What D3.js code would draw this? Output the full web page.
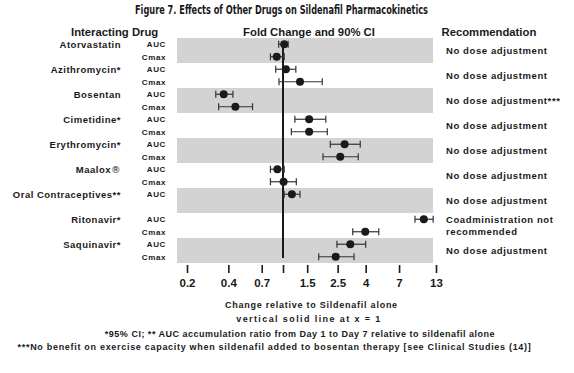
<!DOCTYPE html>
<html>
<head>
<meta charset="utf-8">
<script src="https://cdn.jsdelivr.net/npm/d3@7"></script>
<style>
  body { margin: 0; background: #fff; }
  text { font-family: "Liberation Sans", Arial, sans-serif; font-weight: bold; fill: #1a1a1a; }
  .narrow { font-family: "Liberation Sans Narrow", "DejaVu Sans Condensed", sans-serif; font-stretch: condensed; }
  .mark { font-family: "DejaVu Sans", sans-serif; font-weight: normal; }
</style>
</head>
<body>
<svg id="chart" width="574" height="373"></svg>
<script>
const drugs = ["Atorvastatin", "Azithromycin*", "Bosentan", "Cimetidine*", "Erythromycin*",
  "Maalox\u00AE", "Oral Contraceptives**", "Ritonavir*", "Saquinavir*"];
const measures = [["AUC", "Cmax"], ["AUC", "Cmax"], ["AUC", "Cmax"], ["AUC", "Cmax"], ["AUC", "Cmax"],
  ["AUC", "Cmax"], ["AUC"], ["AUC", "Cmax"], ["AUC", "Cmax"]];
const foldChange = [[1.02, 0.90], [1.05, 1.33], [0.37, 0.45], [1.55, 1.55], [2.81, 2.61],
  [0.91, 1.01], [1.16], [10.6, 3.97], [3.09, 2.42]];
const ciLower = [[0.93, 0.81], [0.885, 0.935], [0.324, 0.34], [1.22, 1.15], [2.21, 1.955],
  [0.81, 0.81], [1.02], [9.14, 3.22], [2.47, 1.82]];
const ciUpper = [[1.09, 1.02], [1.24, 1.93], [0.432, 0.60], [2.05, 2.10], [3.65, 3.53],
  [1.02, 1.25], [1.33], [12.4, 4.98], [4.00, 3.29]];
const recommendations = [["No dose adjustment"], ["No dose adjustment"], ["No dose adjustment***"],
  ["No dose adjustment"], ["No dose adjustment"], ["No dose adjustment"], ["No dose adjustment"],
  ["Coadministration not", "recommended"], ["No dose adjustment"]];
const xTicks = [0.2, 0.4, 0.7, 1, 1.5, 2.5, 4, 7, 13];
const xTickLabels = ["0.2", "0.4", "0.7", "", "1.5", "2.5", "4", "7", "13"];

const svg = d3.select("#chart");

const x = d3.scaleLog().domain([0.2, 13]).range([187, 436]);
const y = d3.scaleBand().domain(d3.range(drugs.length * 2)).range([38, 263]);
const step = y.step();

// one row per drug/measure pair, each drug owns two slots
const rows = [];
drugs.forEach((drug, i) => {
  measures[i].forEach((m, j) => {
    rows.push({ drug: i, measure: m, slot: i * 2 + j,
      value: foldChange[i][j], lo: ciLower[i][j], hi: ciUpper[i][j] });
  });
});
const cy = (slot) => y(slot) + step / 2;

////////////////////////////////////////////////////////////////////////////////////

svg.append("g")
  .selectAll("rect")
  .data(drugs.map((d, i) => i).filter((i) => i % 2 === 0))
  .enter()
  .append("rect")
  .attr("x", 177)
  .attr("width", 256)
  .attr("y", (i) => y(i * 2))
  .attr("height", step * 2)
  .attr("fill", "#d3d3d3");

svg.append("line")
  .attr("x1", x(1)).attr("x2", x(1))
  .attr("y1", 41).attr("y2", 258)
  .style("stroke", "#1a1a1a")
  .style("stroke-width", 2);

const axis = svg.append("g")
  .attr("transform", "translate(0,265)")
  .call(d3.axisBottom(x).tickValues(xTicks).tickFormat((d, i) => xTickLabels[i]).tickSize(8).tickPadding(6));
axis.select(".domain").remove();
axis.selectAll(".tick line").style("stroke", "#1a1a1a").style("stroke-width", 1.6);
axis.selectAll(".tick text")
  .style("font-family", "'Liberation Sans', Arial, sans-serif")
  .style("font-weight", "bold")
  .style("font-size", "11.5px")
  .style("fill", "#1a1a1a");

////////////////////////////////////////////////////////////////////////////////////

const bars = svg.append("g").selectAll("g").data(rows).enter().append("g");
bars.append("line")
  .attr("x1", (d) => x(d.lo)).attr("x2", (d) => x(d.hi))
  .attr("y1", (d) => cy(d.slot)).attr("y2", (d) => cy(d.slot))
  .style("stroke", "#333").style("stroke-width", 1.2);
["lo", "hi"].forEach((k) => {
  bars.append("line")
    .attr("x1", (d) => x(d[k])).attr("x2", (d) => x(d[k]))
    .attr("y1", (d) => cy(d.slot) - 3.5).attr("y2", (d) => cy(d.slot) + 3.5)
    .style("stroke", "#333").style("stroke-width", 1.2);
});
bars.append("circle")
  .attr("cx", (d) => x(d.value))
  .attr("cy", (d) => cy(d.slot))
  .attr("r", 4)
  .attr("fill", "#1a1a1a");

////////////////////////////////////////////////////////////////////////////////////

// the ® sign goes in its own tspan so it stays a plain text glyph
const drugLabel = svg.append("g").selectAll("text").data(drugs).enter().append("text")
  .attr("x", 121)
  .attr("y", (d, i) => cy(i * 2))
  .attr("dy", "0.35em")
  .attr("text-anchor", "end")
  .style("font-size", "9.5px")
  .style("letter-spacing", "0.5px");
drugLabel.append("tspan").text((d) => d.replace("\u00AE", ""));
drugLabel.filter((d) => d.includes("\u00AE"))
  .append("tspan").attr("class", "mark").style("fill", "#1a1a1a").text("\u00AE");

svg.append("g").selectAll("text").data(rows).enter().append("text")
  .attr("x", 166)
  .attr("y", (d) => cy(d.slot))
  .attr("dy", "0.35em")
  .attr("text-anchor", "end")
  .style("font-size", "8px")
  .style("letter-spacing", "0.6px")
  .text((d) => d.measure);

recommendations.forEach((lines, i) => {
  lines.forEach((line, j) => {
    const yy = lines.length === 1 ? y(i * 2) + step : cy(i * 2 + j);
    svg.append("text")
      .attr("x", 446)
      .attr("y", yy)
      .attr("dy", "0.35em")
      .style("font-size", "9.5px")
      .style("letter-spacing", "0.6px")
      .text(line);
  });
});

////////////////////////////////////////////////////////////////////////////////////

svg.append("text").attr("class", "narrow")
  .attr("x", 281.5).attr("y", 14)
  .attr("text-anchor", "middle")
  .attr("textLength", 293)
  .attr("lengthAdjust", "spacingAndGlyphs")
  .style("font-size", "11.5px")
  .text("Figure 7. Effects of Other Drugs on Sildenafil Pharmacokinetics");

const headers = [
  { text: "Interacting Drug", x: 71, anchor: "start" },
  { text: "Fold Change and 90% CI", x: 309, anchor: "middle" },
  { text: "Recommendation", x: 441.5, anchor: "start" }
];
svg.append("g").selectAll("text").data(headers).enter().append("text")
  .attr("x", (d) => d.x).attr("y", 36)
  .attr("text-anchor", (d) => d.anchor)
  .style("font-size", "11.3px")
  .text((d) => d.text);

const footers = [
  { text: "Change relative to Sildenafil alone", x: 311.5, y: 308, ls: 0.75 },
  { text: "vertical solid line at x = 1", x: 309, y: 322, ls: 1.4 },
  { text: "*95% CI;  ** AUC accumulation ratio from Day 1 to Day 7 relative to sildenafil alone", x: 300, y: 336.5, ls: 0.5 },
  { text: "***No benefit on exercise capacity when sildenafil added to bosentan therapy [see Clinical Studies (14)]", x: 274.5, y: 350, ls: 0.7 }
];
svg.append("g").selectAll("text").data(footers).enter().append("text")
  .attr("x", (d) => d.x).attr("y", (d) => d.y)
  .attr("text-anchor", "middle")
  .style("font-size", "9px")
  .style("letter-spacing", (d) => d.ls + "px")
  .text((d) => d.text);
</script>
</body>
</html>
